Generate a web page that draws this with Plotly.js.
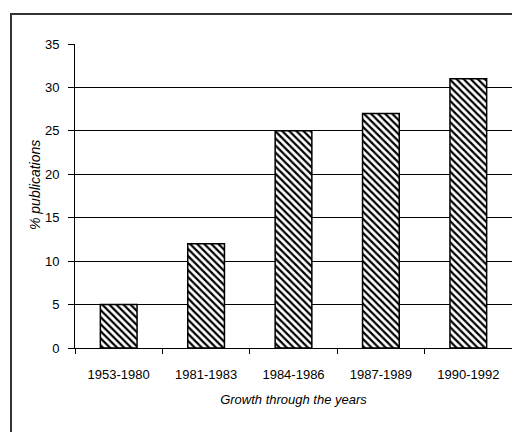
<!DOCTYPE html>
<html><head><meta charset="utf-8">
<script src="https://cdn.plot.ly/plotly-3.0.1.min.js"></script>
<style>html,body{margin:0;padding:0;background:#fff}#c{width:512px;height:432px}</style>
</head><body><div id="c"></div>
<script>
var categories = ["1953-1980", "1981-1983", "1984-1986", "1987-1989", "1990-1992"];
var values = [5, 12, 25, 27, 31];
var yTicks = [0, 5, 10, 15, 20, 25, 30, 35];
var xTitle = "Growth through the years";
var yTitle = "% publications";

var fontFam = "Liberation Sans Narrow, Arial Narrow, Liberation Sans, Arial, sans-serif";

var trace = {
  type: "bar",
  x: categories,
  y: values,
  marker: {
    color: "#ffffff",
    line: {color: "#000000", width: 1.5},
    pattern: {shape: "\\", fgcolor: "#000000", bgcolor: "#ffffff", size: 5, solidity: 0.45}
  },
  hoverinfo: "none"
};

var layout = {
  width: 512, height: 432,
  margin: {l: 75, r: 0, t: 44, b: 84},
  paper_bgcolor: "#ffffff",
  plot_bgcolor: "#ffffff",
  showlegend: false,
  bargap: 0.58,
  font: {family: fontFam, size: 13, color: "#000"},
  xaxis: {
    type: "category",
    tickson: "boundaries",
    ticks: "outside", ticklen: 5, tickcolor: "#000", tickwidth: 1,
    ticklabelstandoff: 14,
    showline: true, linecolor: "#000", linewidth: 1,
    showgrid: false,
    tickfont: {family: fontFam, size: 13, color: "#000"},
    title: {text: xTitle, font: {family: fontFam, size: 13, color: "#000", style: "italic"}, standoff: 14}
  },
  yaxis: {
    range: [0, 35],
    tickvals: yTicks,
    ticks: "outside", ticklen: 6, tickcolor: "#000", tickwidth: 1,
    showline: true, linecolor: "#000", linewidth: 1,
    showgrid: true, gridcolor: "#000", gridwidth: 1.2,
    zeroline: false,
    ticklabelstandoff: 6,
    tickfont: {family: fontFam, size: 13, color: "#000"}
  },
  annotations: [{
    text: yTitle, xref: "paper", yref: "paper",
    x: (35 - 75) / 437, y: (348 - 185) / 304,
    xanchor: "center", yanchor: "middle", textangle: -90, showarrow: false,
    font: {family: fontFam, size: 14, color: "#000", style: "italic"}
  }],
  shapes: [{
    type: "path", xref: "paper", yref: "paper",
    path: "M " + ((11 - 75) / 437) + " " + ((348 - 440) / 304) + " L " + ((11 - 75) / 437) + " " + ((348 - 14) / 304) + " L " + ((520 - 75) / 437) + " " + ((348 - 14) / 304),
    line: {color: "#333", width: 2}
  }]
};

Plotly.newPlot("c", [trace], layout, {displayModeBar: false, staticPlot: true});
</script></body></html>
